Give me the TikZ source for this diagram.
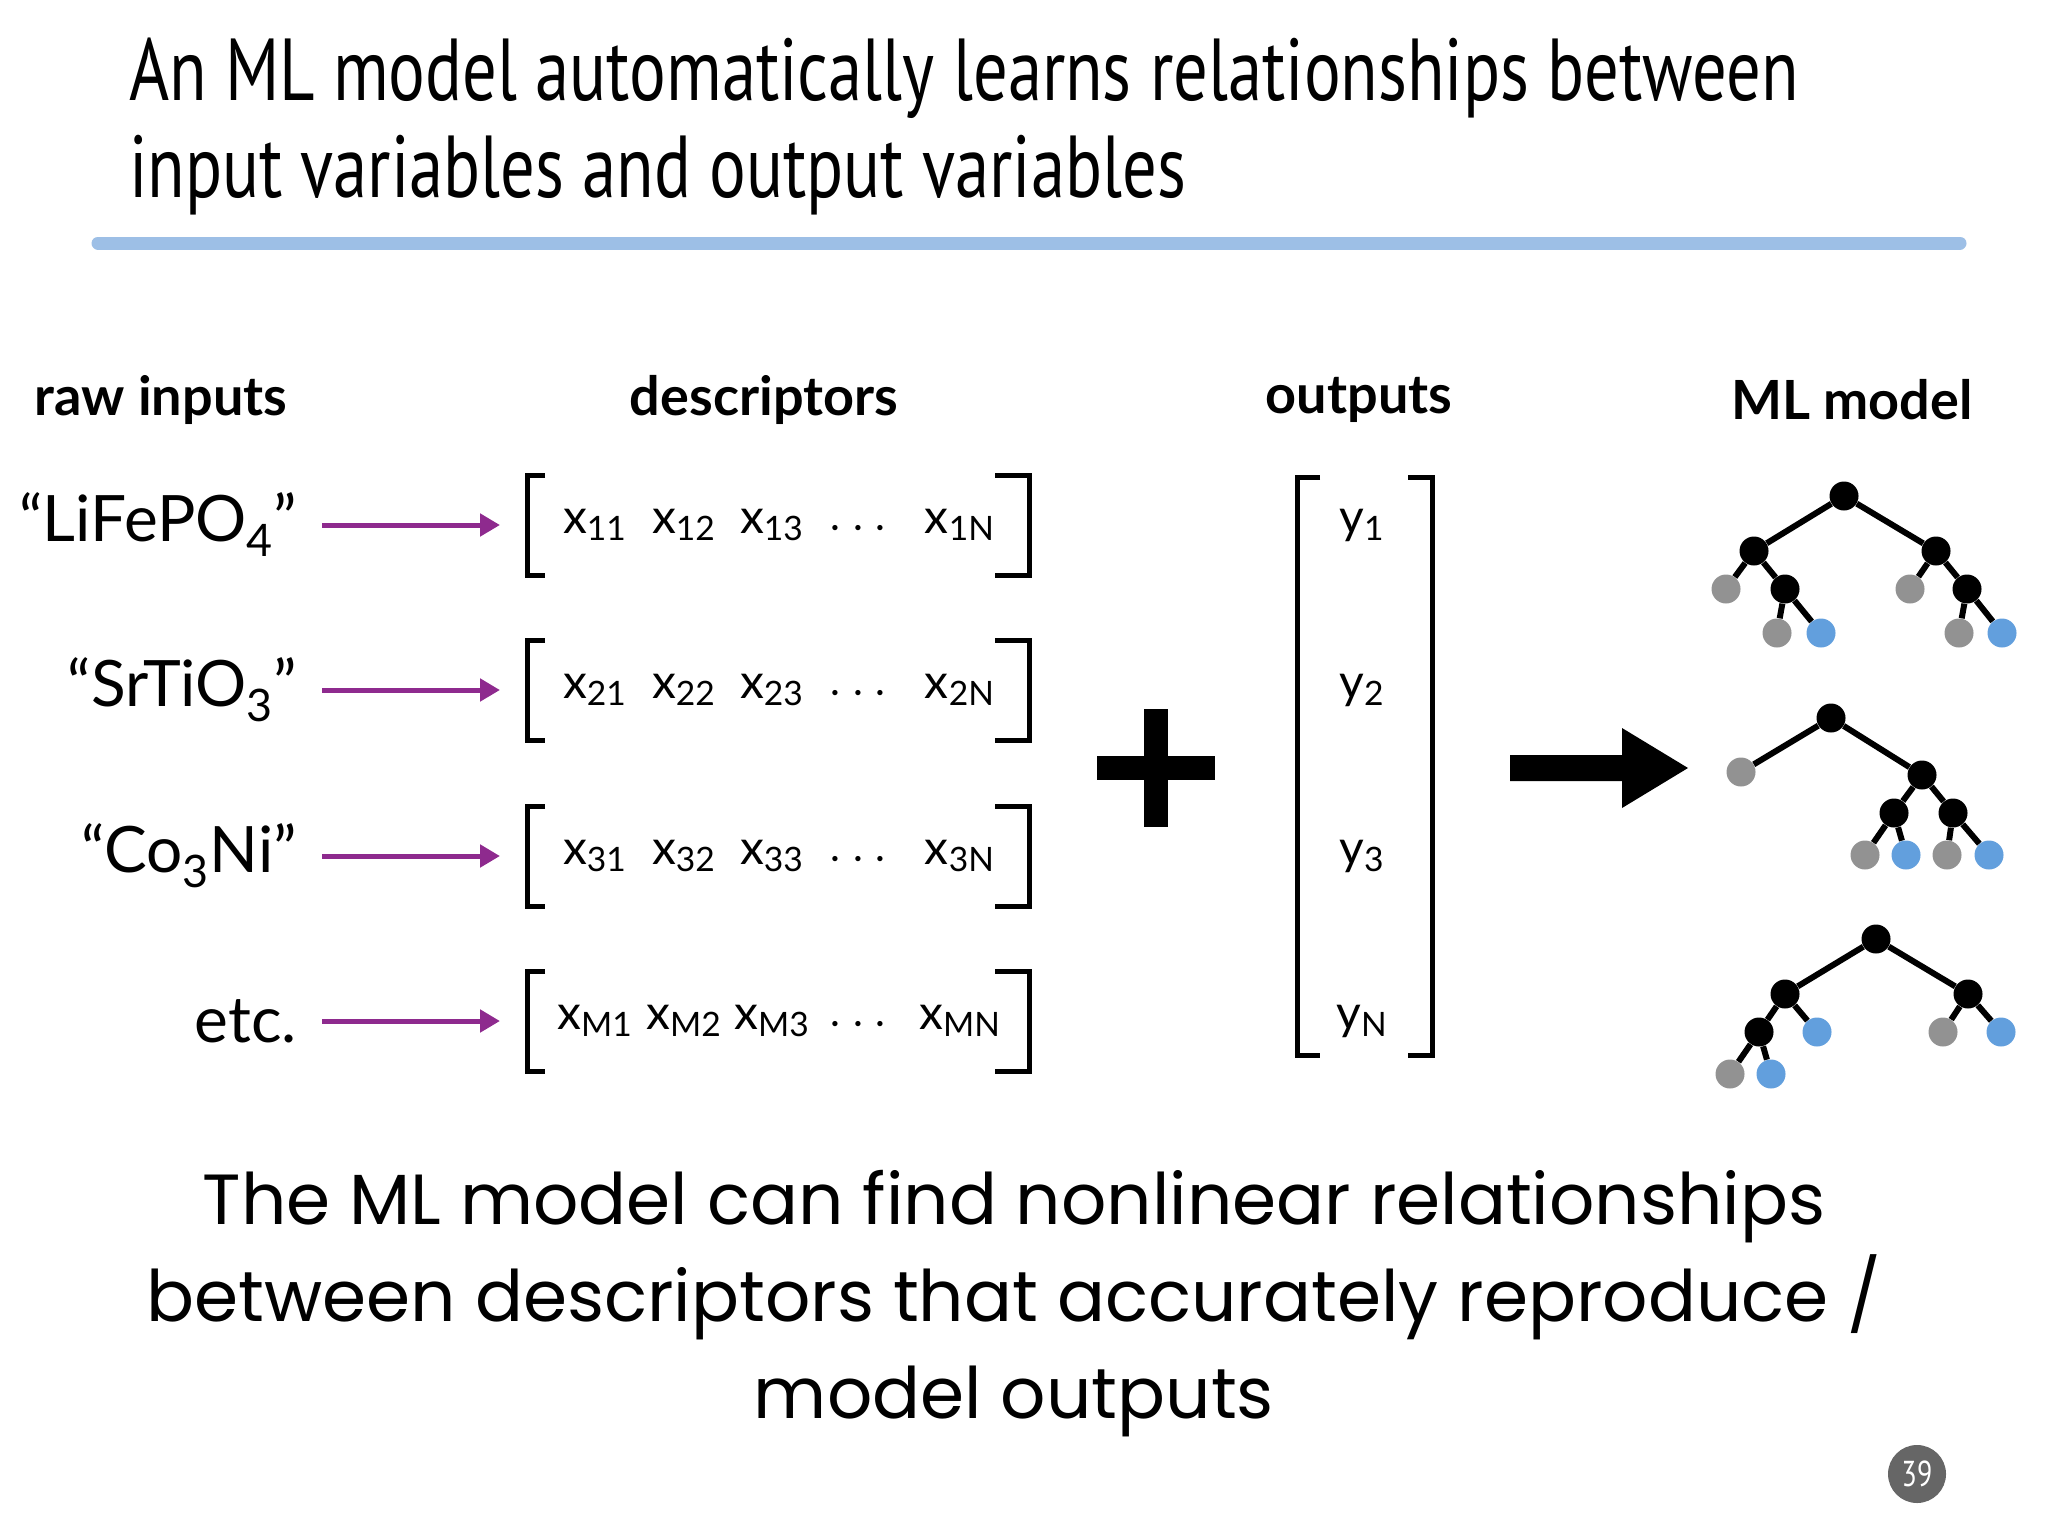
\documentclass[tikz,border=0pt]{standalone}
\usepackage{fontspec}
\setmainfont{Lato}
\newfontfamily\cond{PT Sans}[FakeStretch=0.78]
\newfontfamily\geo{Poppins}
\usetikzlibrary{arrows.meta}
\definecolor{rule}{HTML}{9DBFE6}
\definecolor{purp}{HTML}{8E2A8E}
\definecolor{leafg}{HTML}{929292}
\definecolor{leafb}{HTML}{629FDD}
\tikzset{
  hdr/.style={font=\fontsize{27}{30}\selectfont\bfseries},
  lab/.style={anchor=east,font=\fontsize{32}{34}\selectfont},
  ent/.style={font=\fontsize{24}{28}\selectfont},
  parr/.style={purp,line width=2.5pt,-{Triangle[length=10pt,width=11pt]}},
  brk/.style={line width=2.5pt},
  nb/.style={circle,fill=black,minimum size=14.5pt,inner sep=0pt},
  ng/.style={circle,fill=leafg,minimum size=14.5pt,inner sep=0pt},
  nbl/.style={circle,fill=leafb,minimum size=14.5pt,inner sep=0pt},
  ed/.style={line width=3pt},
  ttl/.style={anchor=base west,font=\cond\fontsize{44}{49}\selectfont},
}
\newcommand{\sbs}[1]{\textsubscript{#1}}
\begin{document}
\begin{tikzpicture}[x=0.5pt,y=-0.5pt]
\useasboundingbox (0,0) rectangle (2048,1536);
\node[ttl] (t1) at (122,100) {An ML model automatically learns relationships between};
\node[ttl] (t2) at (122,197) {input variables and output variables};
\draw[rule,line width=6.5pt,line cap=round] (98,243) -- (1960,243);
\node[hdr] (h1) at (161,400) {raw inputs};
\node[hdr] (h2) at (764,400) {descriptors};
\node[hdr] (h3) at (1359,400) {outputs};
\node[hdr] (h4) at (1852,400) {ML model};
% rows
\foreach \y/\lbl/\a/\b/\c/\n [count=\i] in {525/{``LiFePO\sbs{4}''}/11/12/13/1N, 690/{``SrTiO\sbs{3}''}/21/22/23/2N, 856/{``Co\sbs{3}Ni''}/31/32/33/3N, 1021/{etc.}/M1/M2/M3/MN}{
  \node[lab] (l\i) at (304,\y) {\lbl};
  \coordinate (as\i) at (322,\y);
  \coordinate (ae\i) at (500,\y);
  \draw[parr] (as\i) -- (ae\i);
  \draw[brk] (545,\y-50) -- (527,\y-50) -- (527,\y+50) -- (545,\y+50);
  \draw[brk] (995,\y-50) -- (1029,\y-50) -- (1029,\y+50) -- (995,\y+50);
  \node[ent] (e\i a) at (595,\y) {x\sbs{\a}};
  \node[ent] (e\i b) at (684,\y) {x\sbs{\b}};
  \node[ent] (e\i c) at (772,\y) {x\sbs{\c}};
  \node[ent] (e\i d) at (858,\y+4) {$\cdots$};
  \node[ent] (e\i n) at (960,\y) {x\sbs{\n}};
}
% plus
\fill (1097,756) rectangle (1215,780);
\fill (1144,709) rectangle (1168,827);
% outputs bracket
\draw[brk] (1320,477) -- (1297,477) -- (1297,1055) -- (1320,1055);
\draw[brk] (1408,477) -- (1432,477) -- (1432,1055) -- (1408,1055);
\node[ent] (y1) at (1362,525) {y\sbs{1}};
\node[ent] (y2) at (1362,690) {y\sbs{2}};
\node[ent] (y3) at (1362,856) {y\sbs{3}};
\node[ent] (y4) at (1362,1021) {y\sbs{N}};
% big arrow
\fill (1510,755) -- (1622,755) -- (1622,728) -- (1688,768) -- (1622,808) -- (1622,781) -- (1510,781) -- cycle;
\begin{scope}[xshift=-4pt]
% tree 1
\node[nb] (a0) at (1852,496) {};
\node[nb] (a1) at (1762,551) {};
\node[nb] (a2) at (1944,551) {};
\node[ng] (a3) at (1734,589) {};
\node[nb] (a4) at (1793,589) {};
\node[ng] (a5) at (1785,633) {};
\node[nbl] (a6) at (1829,633) {};
\node[ng] (a7) at (1918,589) {};
\node[nb] (a8) at (1975,589) {};
\node[ng] (a9) at (1967,633) {};
\node[nbl] (a10) at (2010,633) {};
\draw[ed] (a0)--(a1) (a0)--(a2) (a1)--(a3) (a1)--(a4) (a4)--(a5) (a4)--(a6) (a2)--(a7) (a2)--(a8) (a8)--(a9) (a8)--(a10);
% tree 2
\node[nb] (b0) at (1839,718) {};
\node[ng] (b1) at (1749,772) {};
\node[nb] (b2) at (1930,775) {};
\node[nb] (b3) at (1902,813) {};
\node[nb] (b4) at (1961,813) {};
\node[ng] (b5) at (1873,855) {};
\node[nbl] (b6) at (1914,855) {};
\node[ng] (b7) at (1955,855) {};
\node[nbl] (b8) at (1997,855) {};
\draw[ed] (b0)--(b1) (b0)--(b2) (b2)--(b3) (b2)--(b4) (b3)--(b5) (b3)--(b6) (b4)--(b7) (b4)--(b8);
% tree 3
\node[nb] (c0) at (1884,939) {};
\node[nb] (c1) at (1793,994) {};
\node[nb] (c2) at (1976,994) {};
\node[nb] (c3) at (1767,1032) {};
\node[nbl] (c4) at (1825,1032) {};
\node[ng] (c5) at (1738,1074) {};
\node[nbl] (c6) at (1779,1074) {};
\node[ng] (c7) at (1951,1032) {};
\node[nbl] (c8) at (2009,1032) {};
\draw[ed] (c0)--(c1) (c0)--(c2) (c1)--(c3) (c1)--(c4) (c3)--(c5) (c3)--(c6) (c2)--(c7) (c2)--(c8);
\end{scope}
% bottom text
\node[align=center,font=\geo\fontsize{35.5}{48.5}\selectfont] (bt) at (1014,1304) {The ML model can find nonlinear relationships\\between descriptors that accurately reproduce /\\model outputs};
\node[circle,fill=black!60,minimum size=29pt,inner sep=0pt,text=white,font=\cond\fontsize{18}{20}\selectfont] (pg) at (1917,1474) {39};
\end{tikzpicture}
\end{document}
